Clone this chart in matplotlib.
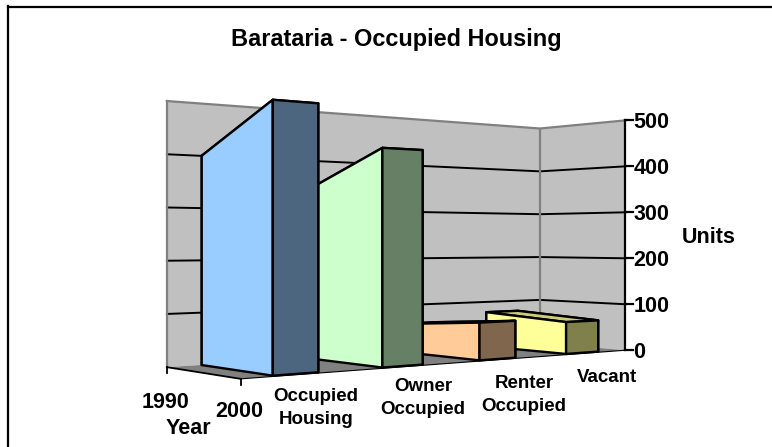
import numpy as np
import matplotlib
matplotlib.use('Agg')
import matplotlib.pyplot as plt
from matplotlib.lines import Line2D
from mpl_toolkits.mplot3d.art3d import Poly3DCollection

plt.rcParams['font.family'] = ['Liberation Sans', 'DejaVu Sans']
plt.rcParams['font.weight'] = 'bold'

title = 'Barataria - Occupied Housing'
categories = ['Occupied\nHousing', 'Owner\nOccupied', 'Renter\nOccupied', 'Vacant']
years = ['1990', '2000']
values_1990 = [400, 340, 60, 77]
values_2000 = [486, 412, 75, 67]
units_ticks = [0, 100, 200, 300, 400, 500]
zmax = 500

light = ['#99CCFF', '#CCFFCC', '#FFCC99', '#FFFF99']
dark = ['#4D6680', '#668066', '#80664D', '#80804D']
top = ['#7AA3CC', '#A3CCA3', '#CCA37A', '#CCCC7A']

# corners of the box on the picture: x, floor y, height of the wall
# (u, v) = (category position, depth) v=0 front, v=1 back
nu = len(categories)
corners = {(0, 1): (166, 368, 265), (nu, 1): (542, 342, 215), (nu, 0): (623, 351, 229), (0, 0): (242, 378, 292)}
A = []
cx, cy, cw = [], [], []
for (u, v), (px, py, h) in corners.items():
    A.append([u, v, 1])
    cw.append(1 / h)
    cx.append(px / h)
    cy.append(py / h)
A = np.array(A, dtype=float)
rx = np.linalg.lstsq(A, cx, rcond=None)[0]
ry = np.linalg.lstsq(A, cy, rcond=None)[0]
rw = np.linalg.lstsq(A, cw, rcond=None)[0]
M = np.array([[rx[0], rx[1], 0, rx[2]],
              [ry[0], ry[1], -1 / zmax, ry[2]],
              [0, 0, 0, -1],
              [rw[0], rw[1], 0, rw[2]]])


def project(u, v, z):
    p = M @ np.array([u, v, z, 1.0])
    return p[0] / p[3], p[1] / p[3]


fig = plt.figure(figsize=(7.72, 4.47), dpi=100)
ax = fig.add_axes([0, 0, 1, 1], projection='3d')
ax.set_axis_off()
ax.computed_zorder = False
ax.get_proj = lambda: M
ax.apply_aspect = lambda position=None: None
ax.viewLim.intervalx = (0, 772)
ax.viewLim.intervaly = (447, 0)


def line3(us, vs, zs, **kw):
    pts = [project(u, v, z) for u, v, z in zip(us, vs, zs)]
    ax.add_line(Line2D([p[0] for p in pts], [p[1] for p in pts], **kw))


# walls and floor
wall_back = [[(0, 1, 0), (nu, 1, 0), (nu, 1, zmax), (0, 1, zmax)]]
wall_side = [[(nu, 1, 0), (nu, 0, 0), (nu, 0, zmax), (nu, 1, zmax)]]
floor = [[(0, 0, 0), (nu, 0, 0), (nu, 1, 0), (0, 1, 0)]]
ax.add_collection3d(Poly3DCollection(wall_back + wall_side, facecolors='#C0C0C0', edgecolors='none', zorder=1))
ax.add_collection3d(Poly3DCollection(floor, facecolors='#808080', edgecolors='none', zorder=1))

for z in units_ticks[1:-1]:
    line3([0, nu, nu], [1, 1, 0], [z, z, z], color='black', lw=1.4, zorder=2)
line3([0, 0], [1, 1], [0, zmax], color='#808080', lw=1.6, zorder=3)
line3([nu, nu], [1, 1], [0, zmax], color='#808080', lw=1.6, zorder=3)
line3([0, nu, nu], [1, 1, 0], [zmax, zmax, zmax], color='#808080', lw=1.6, zorder=3)

# axes lines
line3([nu, nu], [0, 0], [0, zmax], color='black', lw=1.6, zorder=3)
line3([0, 0], [1, 0], [0, 0], color='black', lw=1.3, zorder=3)
line3([0, nu], [0, 0], [0, 0], color='black', lw=0.8, zorder=3)

# one ribbon per category, 1990 at the back and 2000 at the front
v0, v1 = 0.045, 0.99
for i in range(nu):
    u0, u1 = i + 0.3, i + 0.7
    zb, zf = values_1990[i], values_2000[i]
    verts = [[(u0, v1, 0), (u1, v1, 0), (u1, v1, zb), (u0, v1, zb)],
             [(u1, v0, 0), (u1, v1, 0), (u1, v1, zb), (u1, v0, zf)],
             [(u0, v0, zf), (u1, v0, zf), (u1, v1, zb), (u0, v1, zb)],
             [(u0, v0, 0), (u0, v1, 0), (u0, v1, zb), (u0, v0, zf)],
             [(u0, v0, 0), (u1, v0, 0), (u1, v0, zf), (u0, v0, zf)]]
    ax.add_collection3d(Poly3DCollection(verts, facecolors=[dark[i], dark[i], top[i], light[i], dark[i]],
                                         edgecolors='black', linewidths=1.7, zorder=10 - i))

for z in units_ticks:
    px, py = project(nu, 0, z)
    ax.add_line(Line2D([px, px + 8], [py, py], color='black', lw=1.6, zorder=3))
    ax.text2D(px + 8, py, str(z), transform=ax.transData, fontsize=15.5, ha='left', va='center_baseline')

for v, lab, off in zip([1, 0], years, [33, 30]):
    px, py = project(0, v, 0)
    ax.add_line(Line2D([px, px], [py, py + 6], color='black', lw=1.3, zorder=3))
    ax.text2D(px - 1, py + off, lab, transform=ax.transData, fontsize=15.5, ha='center', va='center_baseline')

label_pos = [(316, 408), (423, 398), (524, 395), (607, 377)]
for lab, (px, py) in zip(categories, label_pos):
    ax.text2D(px, py, lab, transform=ax.transData, fontsize=13.5, ha='center', va='center', linespacing=1.45)

ax.text2D(188, 426, 'Year', transform=ax.transData, fontsize=15.5, ha='center', va='center_baseline')
ax.text2D(709, 235, 'Units', transform=ax.transData, fontsize=15.5, ha='center', va='center_baseline')
ax.text2D(396, 37, title, transform=ax.transData, fontsize=16.9, ha='center', va='center_baseline')

# only top and left border of the chart area
ax.add_line(Line2D([8, 772], [6.5, 6.5], color='black', lw=1.6, zorder=20))
ax.add_line(Line2D([8, 8], [6, 447], color='black', lw=1.6, zorder=20))

fig.savefig('out.png', dpi=100)
